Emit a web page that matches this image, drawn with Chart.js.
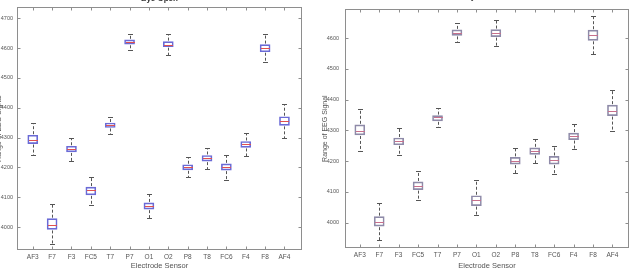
<!DOCTYPE html>
<html>
<head>
<meta charset="utf-8">
<script src="https://cdn.jsdelivr.net/npm/chart.js@4.4.1/dist/chart.umd.min.js"></script>
<style>
  body { margin: 0; background: #fff; }
  .panel { position: absolute; top: 0; width: 318px; height: 277px; }
  #leftBox { left: 0; }
  #rightBox { left: 318px; }
</style>
</head>
<body>
<div class="panel" id="leftBox"><canvas id="eyeOpen" width="318" height="277"></canvas></div>
<div class="panel" id="rightBox"><canvas id="eyeClosed" width="318" height="277"></canvas></div>
<script>
// electrodes
const sensors = ['AF3', 'F7', 'F3', 'FC5', 'T7', 'P7', 'O1', 'O2', 'P8', 'T8', 'FC6', 'F4', 'F8', 'AF4'];
const yTickValues = [4000, 4100, 4200, 4300, 4400, 4500, 4600, 4700];

// eye open (left) - whisker low, q1, median, q3, whisker high
const openLow = [4240, 3942, 4223, 4074, 4313, 4595, 4032, 4578, 4167, 4194, 4158, 4239, 4555, 4298];
const openQ1 = [4280, 3992, 4252, 4108, 4334, 4613, 4060, 4605, 4192, 4221, 4191, 4267, 4588, 4341];
const openMed = [4293, 4007, 4262, 4123, 4342, 4621, 4070, 4612, 4201, 4231, 4202, 4278, 4600, 4354];
const openQ3 = [4308, 4028, 4271, 4134, 4349, 4628, 4081, 4622, 4209, 4240, 4212, 4287, 4612, 4370];
const openHigh = [4348, 4077, 4298, 4169, 4370, 4647, 4111, 4647, 4234, 4266, 4243, 4316, 4647, 4412];

// eye closed (right)
const closedLow = [4234, 3943, 4219, 4072, 4312, 4586, 4025, 4573, 4160, 4193, 4158, 4240, 4547, 4297];
const closedQ1 = [4285, 3988, 4253, 4107, 4331, 4609, 4055, 4605, 4190, 4222, 4190, 4270, 4593, 4348];
const closedMed = [4299, 4001, 4264, 4120, 4342, 4617, 4072, 4617, 4201, 4233, 4202, 4282, 4609, 4364];
const closedQ3 = [4318, 4019, 4275, 4132, 4348, 4627, 4087, 4628, 4212, 4243, 4215, 4291, 4626, 4382];
const closedHigh = [4369, 4064, 4307, 4168, 4372, 4649, 4139, 4660, 4244, 4273, 4250, 4322, 4671, 4432];

const fontFamily = 'Liberation Sans, Arial, sans-serif';
const frameColor = '#8e8e8e';

// whiskers, medians, frame and inward ticks (matlab look)
const boxExtras = {
    id: 'boxExtras',
    afterDatasetsDraw(chart, args, opts) {
        const ctx = chart.ctx;
        const x = chart.scales.x, y = chart.scales.y;
        ctx.save();
        opts.med.forEach((m, i) => {
            const px = Math.round(x.getPixelForValue(i + 1)) + 0.5;
            const yLo = Math.round(y.getPixelForValue(opts.low[i])) + 0.5;
            const yHi = Math.round(y.getPixelForValue(opts.high[i])) + 0.5;
            const yQ1 = y.getPixelForValue(opts.q1[i]);
            const yQ3 = y.getPixelForValue(opts.q3[i]);
            // dashed whiskers
            ctx.strokeStyle = '#555';
            ctx.lineWidth = 1;
            ctx.setLineDash([3, 2]);
            ctx.beginPath();
            ctx.moveTo(px, yQ3 - 1);
            ctx.lineTo(px, yHi);
            ctx.moveTo(px, yQ1 + 1);
            ctx.lineTo(px, yLo);
            ctx.stroke();
            // caps
            ctx.setLineDash([]);
            ctx.beginPath();
            ctx.moveTo(px - 2.5, yHi);
            ctx.lineTo(px + 2.5, yHi);
            ctx.moveTo(px - 2.5, yLo);
            ctx.lineTo(px + 2.5, yLo);
            ctx.stroke();
            // median
            const ym = Math.round(y.getPixelForValue(m)) + 0.5;
            ctx.strokeStyle = opts.medColor;
            ctx.beginPath();
            ctx.moveTo(px - 4.5, ym);
            ctx.lineTo(px + 4.5, ym);
            ctx.stroke();
        });
        ctx.restore();
    },
    afterDraw(chart, args, opts) {
        const ctx = chart.ctx;
        const a = chart.chartArea;
        const x = chart.scales.x, y = chart.scales.y;
        ctx.save();
        ctx.strokeStyle = frameColor;
        ctx.lineWidth = 1;
        const L = Math.round(a.left) + 0.5, R = Math.round(a.right) - 0.5;
        const T = Math.round(a.top) + 0.5, B = Math.round(a.bottom) - 0.5;
        ctx.strokeRect(L, T, R - L, B - T);
        ctx.beginPath();
        x.ticks.forEach(t => {
            const px = Math.round(x.getPixelForValue(t.value)) + 0.5;
            ctx.moveTo(px, B); ctx.lineTo(px, B - 3);
            ctx.moveTo(px, T); ctx.lineTo(px, T + 3);
        });
        y.ticks.forEach(t => {
            const py = Math.round(y.getPixelForValue(t.value)) + 0.5;
            ctx.moveTo(L, py); ctx.lineTo(L + 3, py);
            ctx.moveTo(R, py); ctx.lineTo(R - 3, py);
        });
        ctx.stroke();
        // titles (cut off by the crop in the original)
        ctx.fillStyle = '#333';
        ctx.font = 'bold 8px ' + fontFamily;
        ctx.textAlign = 'center';
        ctx.textBaseline = 'bottom';
        ctx.fillText(opts.title, (a.left + a.right) / 2, opts.titleY);
        ctx.fillStyle = '#555';
        ctx.font = '7px ' + fontFamily;
        ctx.textBaseline = 'middle';
        ctx.translate(opts.yTitleX, (a.top + a.bottom) / 2);
        ctx.rotate(-Math.PI / 2);
        ctx.fillText('Range of EEG Signal', 0, 0);
        ctx.restore();
    }
};

function makePanel(id, p) {
    const boxes = sensors.map((s, i) => ({ x: i + 1, y: [p.q1[i], p.q3[i]] }));
    return new Chart(document.getElementById(id), {
        type: 'bar',
        data: {
            datasets: [{
                data: boxes,
                backgroundColor: 'rgba(0,0,0,0)',
                borderColor: p.boxColor,
                borderWidth: 1,
                borderSkipped: false,
                barThickness: 10
            }]
        },
        options: {
            responsive: false,
            animation: false,
            devicePixelRatio: 1,
            layout: { padding: { top: p.top, right: p.right, left: 0, bottom: 0 } },
            plugins: {
                legend: { display: false },
                tooltip: { enabled: false },
                boxExtras: {
                    low: p.low, q1: p.q1, med: p.med, q3: p.q3, high: p.high,
                    medColor: p.medColor, title: p.title, titleY: p.titleY, yTitleX: p.yTitleX
                }
            },
            scales: {
                x: {
                    type: 'linear',
                    min: p.xMin,
                    max: p.xMax,
                    afterBuildTicks: s => { s.ticks = sensors.map((c, i) => ({ value: i + 1 })); },
                    afterFit: s => { s.height = p.xHeight; },
                    grid: { display: false, drawTicks: false },
                    border: { display: false },
                    ticks: {
                        font: { family: fontFamily, size: 6.5 }, color: '#555', padding: 3,
                        maxRotation: 0, autoSkip: false,
                        callback: v => sensors[v - 1]
                    },
                    title: {
                        display: true, text: 'Electrode Sensor', color: '#555',
                        font: { family: fontFamily, size: 7.5 },
                        padding: { top: 0, bottom: 7 }
                    }
                },
                y: {
                    min: p.yMin,
                    max: p.yMax,
                    afterBuildTicks: s => {
                        s.ticks = yTickValues.filter(v => v >= s.min && v <= s.max).map(v => ({ value: v }));
                    },
                    afterFit: s => { s.width = p.yWidth; },
                    grid: { display: false, drawTicks: false },
                    border: { display: false },
                    ticks: {
                        font: { family: fontFamily, size: 5.5 }, color: '#555', padding: p.yPad,
                        callback: v => String(v)
                    }
                }
            }
        },
        plugins: [boxExtras]
    });
}

makePanel('eyeOpen', {
    low: openLow, q1: openQ1, med: openMed, q3: openQ3, high: openHigh,
    boxColor: '#6a6ad6', medColor: '#e05050',
    title: 'Eye Open', titleY: 3, yTitleX: -1,
    yMin: 3923, yMax: 4737, xMin: 0.712, xMax: 14.38,
    top: 5, right: 16, xHeight: 27, yWidth: 17, yPad: 4
});

makePanel('eyeClosed', {
    low: closedLow, q1: closedQ1, med: closedMed, q3: closedQ3, high: closedHigh,
    boxColor: '#8e8aa8', medColor: '#c8708c',
    title: 'Eye Closed', titleY: 1, yTitleX: 7,
    yMin: 3917, yMax: 4694, xMin: 0.761, xMax: 14.33,
    top: 3, right: 7, xHeight: 29, yWidth: 27, yPad: 6
});
</script>
</body>
</html>
